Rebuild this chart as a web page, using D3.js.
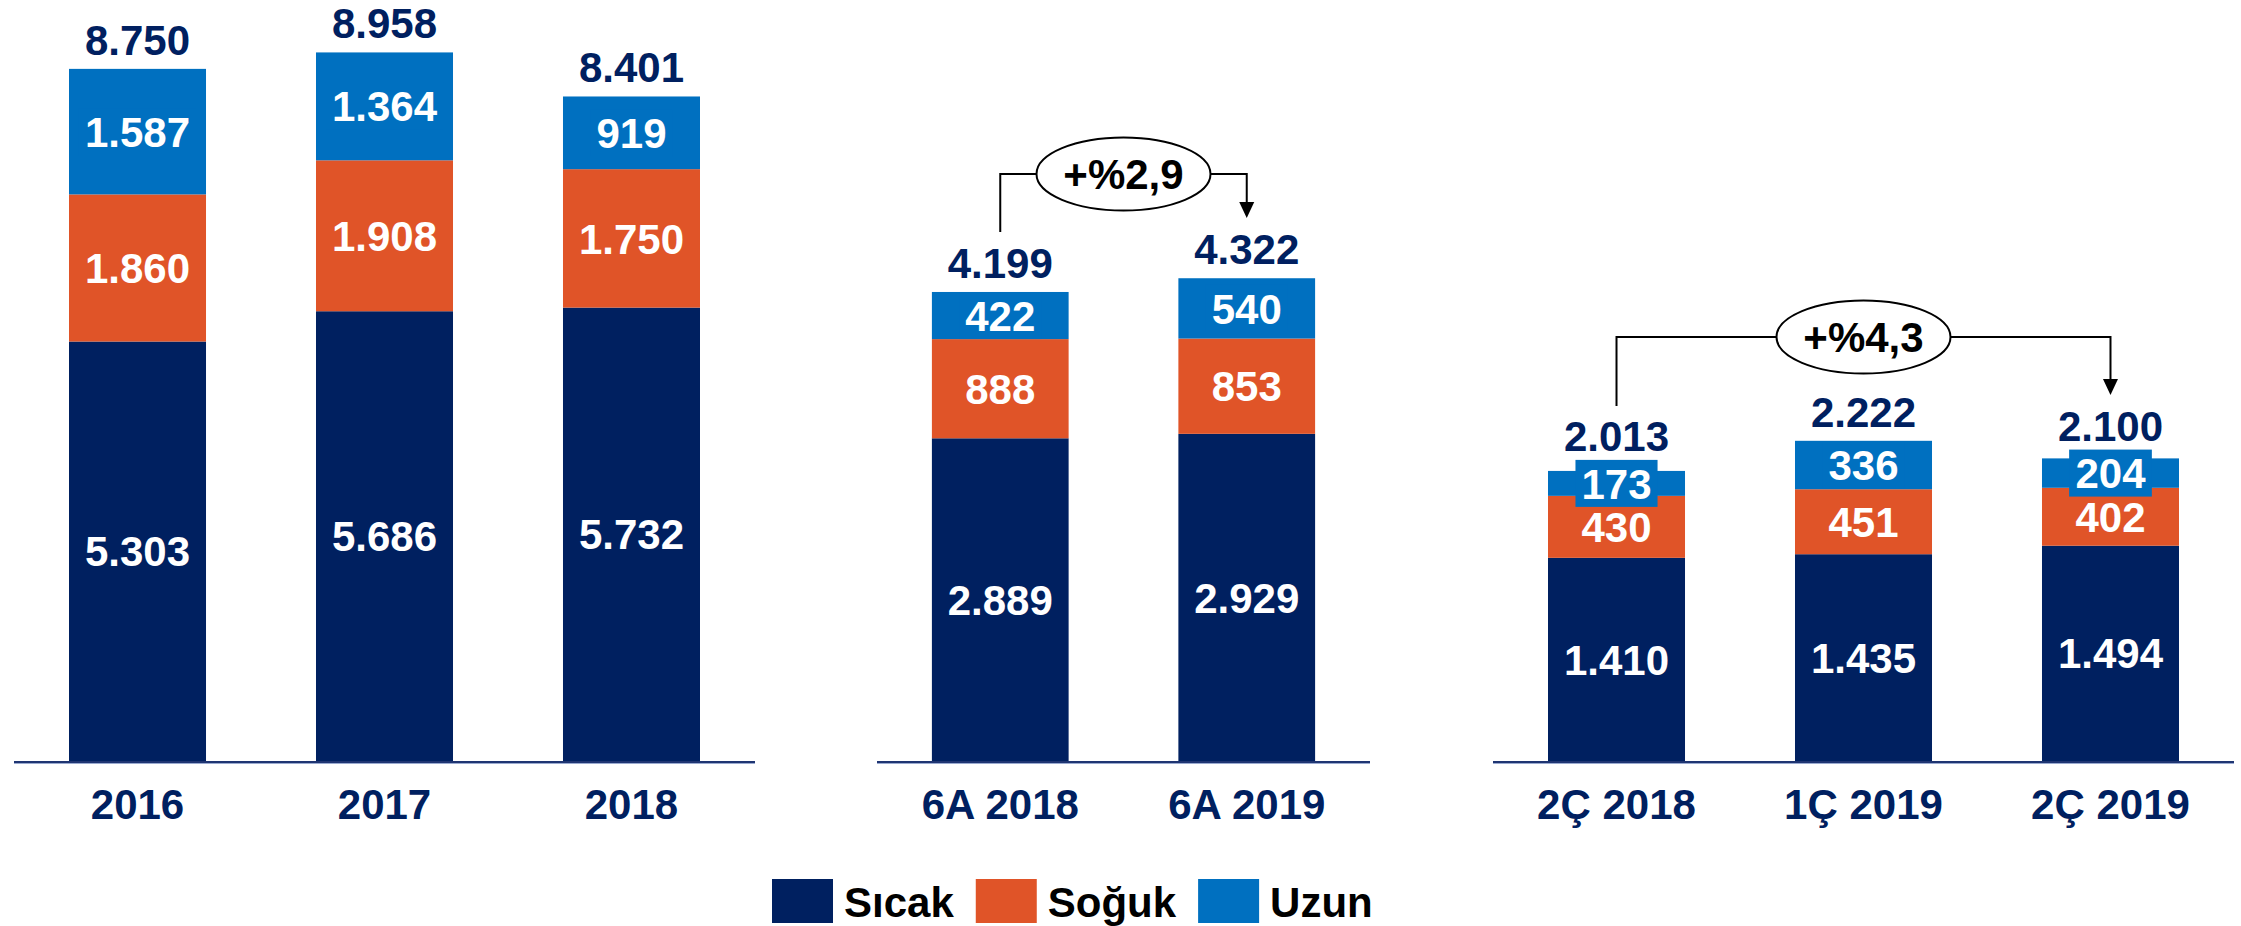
<!DOCTYPE html>
<html>
<head>
<meta charset="utf-8">
<script src="https://cdn.jsdelivr.net/npm/d3@7"></script>
<style>
  html, body { margin: 0; padding: 0; background: #ffffff; }
  svg { display: block; font-family: "Liberation Sans", Arial, sans-serif; font-weight: bold; }
</style>
</head>
<body>
<svg id="chart" width="2241" height="926"></svg>
<script>
// ---------- data ----------
const seriesNames = ["Sıcak", "Soğuk", "Uzun"];
const seriesKeys = ["sicak", "soguk", "uzun"];

const categoriesYear = ["2016", "2017", "2018"];
const sicakYear = [5303, 5686, 5732];
const sogukYear = [1860, 1908, 1750];
const uzunYear  = [1587, 1364, 919];
const totalYear = [8750, 8958, 8401];

const categoriesHalf = ["6A 2018", "6A 2019"];
const sicakHalf = [2889, 2929];
const sogukHalf = [888, 853];
const uzunHalf  = [422, 540];
const totalHalf = [4199, 4322];

const categoriesQuarter = ["2Ç 2018", "1Ç 2019", "2Ç 2019"];
const sicakQuarter = [1410, 1435, 1494];
const sogukQuarter = [430, 451, 402];
const uzunQuarter  = [173, 336, 204];
const totalQuarter = [2013, 2222, 2100];

const changeHalf = "+%2,9";
const changeQuarter = "+%4,3";

// ---------- style ----------
const colors = { sicak: "#002060", soguk: "#E05428", uzun: "#0070C0" };
const navyText = "#002060";
const FS = 42;
const baseY = 761;

const fmt = d3.formatLocale({ decimal: ",", thousands: ".", grouping: [3], currency: ["", ""] }).format(",d");

const svg = d3.select("#chart");

function panel(cfg) {
  const rows = cfg.categories.map((c, i) => ({
    cat: c, sicak: cfg.sicak[i], soguk: cfg.soguk[i], uzun: cfg.uzun[i], total: cfg.total[i]
  }));
  const x = d3.scaleBand().domain(cfg.categories).range(cfg.xRange)
    .paddingInner(0.4453).paddingOuter(0.2227);
  const y = d3.scaleLinear().domain([0, cfg.yMax]).range([baseY, baseY - cfg.k * cfg.yMax]);
  const stack = d3.stack().keys(seriesKeys)(rows);

  const g = svg.append("g");

  // bars
  stack.forEach(layer => {
    g.selectAll(null).data(layer).join("rect")
      .attr("x", d => x(d.data.cat))
      .attr("width", x.bandwidth())
      .attr("y", d => y(d[1]))
      .attr("height", d => y(d[0]) - y(d[1]))
      .attr("fill", colors[layer.key]);
  });

  // axis baseline
  g.append("line")
    .attr("x1", cfg.xRange[0]).attr("x2", cfg.xRange[1])
    .attr("y1", baseY + 1).attr("y2", baseY + 1)
    .attr("stroke", "#1F3572").attr("stroke-width", 2);
  g.append("line")
    .attr("x1", cfg.xRange[0]).attr("x2", cfg.xRange[1])
    .attr("y1", baseY + 2.5).attr("y2", baseY + 2.5)
    .attr("stroke", "#9AAAD0").attr("stroke-width", 1);

  // segment labels
  const boxTops = {};
  stack.forEach(layer => {
    layer.forEach(d => {
      const cx = x(d.data.cat) + x.bandwidth() / 2;
      const cy = (y(d[0]) + y(d[1])) / 2;
      const lg = g.append("g");
      const t = lg.append("text")
        .attr("x", cx).attr("y", cy).attr("dy", "0.36em")
        .attr("text-anchor", "middle")
        .attr("font-size", FS).attr("fill", "#ffffff")
        .text(fmt(d.data[layer.key]));
      if (layer.key === "uzun") {
        const bb = t.node().getBBox();
        const w = bb.width + 12, h = 47;
        lg.insert("rect", "text")
          .attr("x", cx - w / 2).attr("y", cy - h / 2)
          .attr("width", w).attr("height", h)
          .attr("fill", colors.uzun);
        boxTops[d.data.cat] = cy - h / 2;
      }
    });
  });

  // totals
  g.selectAll(null).data(rows).join("text")
    .attr("x", d => x(d.cat) + x.bandwidth() / 2)
    .attr("y", d => Math.min(y(d.total) - 14, boxTops[d.cat] - 9))
    .attr("text-anchor", "middle")
    .attr("font-size", FS).attr("fill", navyText)
    .text(d => fmt(d.total));

  // category labels
  g.selectAll(null).data(rows).join("text")
    .attr("x", d => x(d.cat) + x.bandwidth() / 2)
    .attr("y", 819)
    .attr("text-anchor", "middle")
    .attr("font-size", FS).attr("fill", navyText)
    .text(d => d.cat);

  return { x, y, g, rows };
}

function changeBracket(p, fromCat, toCat, midX, lineY, startY, tipY, label) {
  const x1 = p.x(fromCat) + p.x.bandwidth() / 2;
  const x2 = p.x(toCat) + p.x.bandwidth() / 2;
  const g = p.g.append("g");
  g.append("path")
    .attr("d", `M${x1},${startY}V${lineY}H${x2}V${tipY - 15}`)
    .attr("fill", "none").attr("stroke", "#000").attr("stroke-width", 2);
  g.append("path")
    .attr("d", `M${x2 - 7.5},${tipY - 16}L${x2 + 7.5},${tipY - 16}L${x2},${tipY}Z`)
    .attr("fill", "#000");
  g.append("ellipse")
    .attr("cx", midX).attr("cy", lineY).attr("rx", 87).attr("ry", 36.5)
    .attr("fill", "#fff").attr("stroke", "#000").attr("stroke-width", 2);
  g.append("text")
    .attr("x", midX).attr("y", lineY).attr("dy", "0.36em")
    .attr("text-anchor", "middle").attr("font-size", FS).attr("fill", "#000")
    .text(label);
}

const p1 = panel({ categories: categoriesYear, sicak: sicakYear, soguk: sogukYear, uzun: uzunYear,
  total: totalYear, xRange: [14, 755], yMax: 9000, k: 0.0791 });
const p2 = panel({ categories: categoriesHalf, sicak: sicakHalf, soguk: sogukHalf, uzun: uzunHalf,
  total: totalHalf, xRange: [877, 1370], yMax: 4500, k: 0.1117 });
const p3 = panel({ categories: categoriesQuarter, sicak: sicakQuarter, soguk: sogukQuarter, uzun: uzunQuarter,
  total: totalQuarter, xRange: [1493, 2234], yMax: 2300, k: 0.1441 });

{
  const a = p2.x(categoriesHalf[0]) + p2.x.bandwidth() / 2;
  const b = p2.x(categoriesHalf[1]) + p2.x.bandwidth() / 2;
  changeBracket(p2, categoriesHalf[0], categoriesHalf[1], (a + b) / 2, 174, 232, 218, changeHalf);
}
{
  const m = p3.x(categoriesQuarter[1]) + p3.x.bandwidth() / 2;
  changeBracket(p3, categoriesQuarter[0], categoriesQuarter[2], m, 337, 406, 395, changeQuarter);
}

// legend
{
  const lg = svg.append("g");
  let lx = 772;
  seriesKeys.forEach((k, i) => {
    lg.append("rect").attr("x", lx).attr("y", 879).attr("width", 61).attr("height", 44)
      .attr("fill", colors[k]);
    const t = lg.append("text").attr("x", lx + 72).attr("y", 917)
      .attr("font-size", FS).attr("fill", "#000").text(seriesNames[i]);
    lx += 72 + t.node().getComputedTextLength() + 22;
  });
}
</script>
</body>
</html>
